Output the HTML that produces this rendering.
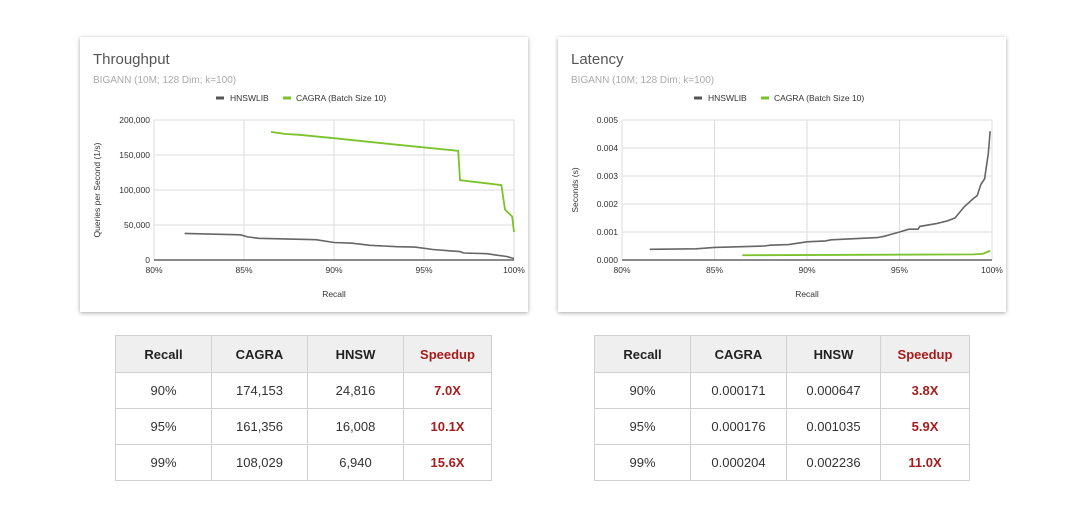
<!DOCTYPE html>
<html><head><meta charset="utf-8"><style>
body{margin:0;width:1080px;height:529px;background:#fff;font-family:"Liberation Sans",Arial,sans-serif;position:relative;overflow:hidden}
.card{position:absolute;top:37px;width:448px;height:275px;background:#fff;box-shadow:0 1px 4px rgba(0,0,0,0.35)}
.card svg{position:absolute;left:0;top:0}
table{position:absolute;top:335px;border-collapse:collapse;font-size:13px;color:#333}
td,th{border:1px solid #d0d0d0;text-align:center;padding:0}
th{background:#efefef;height:36px;font-weight:bold;color:#222}
td{height:35px}
.sp{color:#a61c1c;font-weight:bold}
</style></head><body>
<div class="card" style="left:80px"><svg id="c1" width="448" height="275"></svg></div>
<div class="card" style="left:558px"><svg id="c2" width="448" height="275"></svg></div>

<table style="left:115px;width:377px">
<tr><th style="width:95px">Recall</th><th style="width:95px">CAGRA</th><th style="width:95px">HNSW</th><th class="sp">Speedup</th></tr>
<tr><td>90%</td><td>174,153</td><td>24,816</td><td class="sp">7.0X</td></tr>
<tr><td>95%</td><td>161,356</td><td>16,008</td><td class="sp">10.1X</td></tr>
<tr><td>99%</td><td>108,029</td><td>6,940</td><td class="sp">15.6X</td></tr>
</table>
<table style="left:594px;width:376px">
<tr><th style="width:95px">Recall</th><th style="width:95px">CAGRA</th><th style="width:93px">HNSW</th><th class="sp">Speedup</th></tr>
<tr><td>90%</td><td>0.000171</td><td>0.000647</td><td class="sp">3.8X</td></tr>
<tr><td>95%</td><td>0.000176</td><td>0.001035</td><td class="sp">5.9X</td></tr>
<tr><td>99%</td><td>0.000204</td><td>0.002236</td><td class="sp">11.0X</td></tr>
</table>
<script>
const xTicks=[80,85,90,95,100];
const tpTicks=[0,50000,100000,150000,200000];
const tpTickLabels=["0","50,000","100,000","150,000","200,000"];
const tpHnswX=[81.7,84.8,85.2,85.8,89,90,91,92,93.5,94.5,95.5,96.5,97,97.2,98.5,99,99.6,100];
const tpHnswY=[38000,36000,33000,31000,29000,25000,24000,21000,19000,18500,15000,13000,12000,10000,9000,7000,5000,2000];
const tpCagraX=[86.5,87.3,88,90,93,96.9,97,99.3,99.5,99.9,100];
const tpCagraY=[183000,180000,179000,174000,166000,156000,114000,107000,72000,62000,40000];
const latTicks=[0,0.001,0.002,0.003,0.004,0.005];
const latTickLabels=["0.000","0.001","0.002","0.003","0.004","0.005"];
const latHnswX=[81.5,84,85,87.7,88,89,90,91,91.3,93.8,94.2,95,95.5,96,96.1,97,97.6,98,98.5,99,99.2,99.4,99.6,99.8,99.9];
const latHnswY=[0.00038,0.0004,0.00045,0.0005,0.00053,0.00055,0.00065,0.00068,0.00072,0.0008,0.00085,0.001,0.0011,0.0011,0.0012,0.0013,0.0014,0.0015,0.0019,0.0022,0.0023,0.0027,0.0029,0.0038,0.0046];
const latCagraX=[86.5,99,99.5,99.9];
const latCagraY=[0.00017,0.0002,0.00022,0.00033];
const NS='http://www.w3.org/2000/svg';
function mk(svg,tag,attrs,text){const e=document.createElementNS(NS,tag);for(const k in attrs)e.setAttribute(k,attrs[k]);if(text!==undefined)e.textContent=text;svg.appendChild(e);return e;}
function chart(id,title,yTitle,x0,x1,yTicks,yLabels,yMax,series){
 const svg=document.getElementById(id);
 const y0=83,y1=223;
 const sx=v=>x0+(v-80)/20*(x1-x0);
 const sy=v=>y1-v/yMax*(y1-y0);
 let t=mk(svg,'text',{x:13,y:27,'font-size':15,fill:'#555'},title);
 
 t=mk(svg,'text',{x:13,y:46,'font-size':10,fill:'#aaa'},'BIGANN (10M; 128 Dim; k=100)');
 
 // legend
 let l=mk(svg,'g',{});
 mk(l,'line',{x1:136,x2:144,y1:61,y2:61,stroke:'#555','stroke-width':3});
 mk(l,'text',{x:150,y:64,'font-size':8.5,fill:'#333'},'HNSWLIB');
 mk(l,'line',{x1:203,x2:211,y1:61,y2:61,stroke:'#7cc22a','stroke-width':3});
 mk(l,'text',{x:216,y:64,'font-size':8.5,fill:'#333'},'CAGRA (Batch Size 10)');
 xTicks.forEach(v=>{const g=mk(svg,'line',{x1:sx(v),x2:sx(v),y1:y0,y2:y1,stroke:'#ddd'});
  const tx=mk(svg,'text',{x:sx(v),y:y1+13,'font-size':8.5,'text-anchor':'middle',fill:'#333'},v+'%');});
 yTicks.forEach((v,i)=>{if(i>0){const g=mk(svg,'line',{x1:x0,x2:x1,y1:sy(v),y2:sy(v),stroke:'#ddd'});}
  const tx=mk(svg,'text',{x:x0-4,y:sy(v)+3,'font-size':8.5,'text-anchor':'end',fill:'#333'},yLabels[i]);});
 const ax=mk(svg,'line',{x1:x0,x2:x1,y1:y1,y2:y1,stroke:'#444','stroke-width':1.2});
 t=mk(svg,'text',{x:(x0+x1)/2,y:260,'font-size':8.5,'text-anchor':'middle',fill:'#333'},'Recall');
 
 t=mk(svg,'text',{x:0,y:0,'font-size':8.5,'text-anchor':'middle',fill:'#333',transform:`translate(20,${(y0+y1)/2}) rotate(-90)`},yTitle);
 
 series.forEach(s=>{const p=mk(svg,'polyline',{points:s.x.map((v,i)=>sx(v)+','+sy(s.y[i])).join(' '),fill:'none',stroke:s.c,'stroke-width':s.w});
  });
}
chart('c1','Throughput','Queries per Second (1/s)',74,434,tpTicks,tpTickLabels,200000,[
 {x:tpHnswX,y:tpHnswY,c:'#666',w:1.6,n:'hnswlib-line'},{x:tpCagraX,y:tpCagraY,c:'#7cc22a',w:1.8,n:'cagra-line'}]);
chart('c2','Latency','Seconds (s)',64,434,latTicks,latTickLabels,0.005,[
 {x:latHnswX,y:latHnswY,c:'#666',w:1.6,n:'hnswlib-line'},{x:latCagraX,y:latCagraY,c:'#7cc22a',w:1.8,n:'cagra-line'}]);
</script>
</body></html>
